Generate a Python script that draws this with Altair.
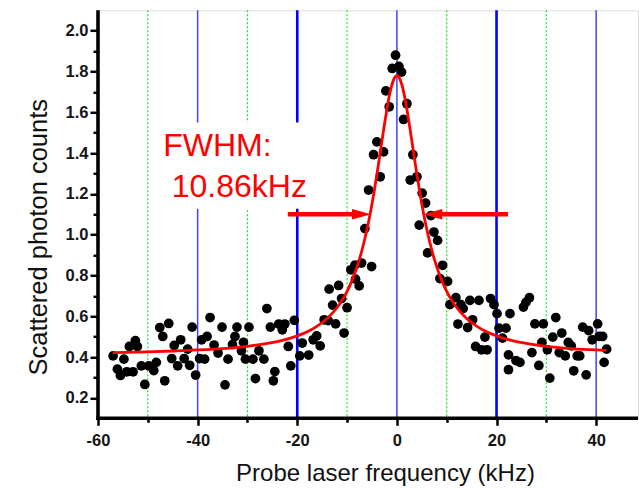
import altair as alt
import pandas as pd

# measured data points (probe detuning kHz, scattered photon counts)
freq = [
    -56.97, -56.1, -55.5, -54.8, -54.2, -52.96, -53.7, -52.5, -52.1, -51.3,
    -50.6, -49.8, -48.8, -48.3, -47.6, -47.0, -45.8, -46.6, -45.2, -44.7,
    -44.0, -43.4, -42.7, -42.0, -41.6, -41.1, -40.4, -39.6, -39.2,
    -38.6, -38.1, -37.5, -36.7, -35.9, -35.1, -33.9, -34.5, -33.0, -32.5,
    -32.1, -31.2, -30.8, -30.4, -29.7, -28.9, -28.4, -27.7, -26.7, -26.1,
    -25.4, -24.5, -24.8, -23.7, -23.0, -22.5, -21.8, -21.3, -20.6, -19.5, -19.0,
    -17.7, -16.8, -16.1, -15.4, -14.6, -13.8, -12.3, -10.6, -12.9, -11.1,
    -10.0, -13.6, -11.7, -9.24, -8.43, -7.09, -5.08, -7.57, -8.3, -6.43,
    -0.27, -0.94, 0.40, 0.94, -2.21, -1.54, 2.01, 1.34, -4.02, -4.68,
    -2.67, 3.21, -3.35, 2.67, 4.02, -5.68, 5.08, 5.76,
    6.83, 4.48, 7.43, 8.17, 6.16, 9.18, 8.63, 10.18, 11.85, 10.64,
    12.85, 13.3, 14.66, 16.47, 12.25, 14.2, 15.2, 17.67, 15.8, 17.0,
    18.1, 18.8, 19.5, 20.1, 20.5, 21.9, 21.2, 22.4, 22.4, 22.7,
    24.7, 23.9, 25.4, 25.9, 26.6, 27.1, 27.7, 28.5, 29.4, 29.1,
    30.2, 30.7, 31.3, 31.9, 32.6, 33.1, 33.8, 34.4, 35.0, 35.5,
    36.2, 36.7, 37.3, 38.0, 38.5, 39.2, 40.3, 40.6, 41.3, 42.1, 41.6,
]
counts = [
    0.406, 0.341, 0.31, 0.39, 0.328, 0.328, 0.452, 0.481, 0.452, 0.357,
    0.266, 0.357, 0.334, 0.374, 0.545, 0.501, 0.565, 0.284, 0.393, 0.457,
    0.357, 0.485, 0.393, 0.439, 0.36, 0.547, 0.312, 0.393, 0.485,
    0.39, 0.501, 0.594, 0.459, 0.42, 0.547, 0.39, 0.264, 0.462, 0.501,
    0.547, 0.431, 0.472, 0.39, 0.547, 0.39, 0.295, 0.431, 0.39, 0.638,
    0.547, 0.329, 0.284, 0.562, 0.534, 0.562, 0.452, 0.357, 0.58, 0.406, 0.469,
    0.41, 0.485, 0.504, 0.455, 0.583, 0.579, 0.563, 0.518, 0.655, 0.687,
    0.642, 0.733, 0.751, 0.828, 0.851, 0.861, 0.844, 0.749, 0.782, 1.03,
    1.880, 1.815, 1.825, 1.797, 1.705, 1.627, 1.642, 1.565, 1.455, 1.392,
    1.406, 1.392, 1.284, 1.268, 1.284, 1.219, 1.204, 1.155,
    1.094, 1.047, 1.013, 0.972, 0.911, 0.85, 0.785, 0.771, 0.691, 0.657,
    0.657, 0.638, 0.678, 0.678, 0.562, 0.545, 0.583, 0.498, 0.452, 0.436,
    0.436, 0.687, 0.657, 0.613, 0.542, 0.542, 0.493, 0.411, 0.338, 0.613,
    0.374, 0.383, 0.645, 0.668, 0.691, 0.422, 0.563, 0.359, 0.563, 0.472,
    0.436, 0.297, 0.498, 0.594, 0.422, 0.518, 0.406, 0.472, 0.455, 0.333,
    0.406, 0.406, 0.547, 0.313, 0.530, 0.485, 0.563, 0.501, 0.501, 0.439, 0.374,
]

# fitted curve
fit_x = [-57, -50, -45, -40, -35, -30, -26, -23, -20, -18, -16, -14, -12, -11,
         -10, -9, -8, -7, -6, -5.5, -5, -4.5, -4, -3.5, -3, -2.5, -2, -1.5,
         -1, -0.5, 0, 0.5, 1, 1.5, 2, 2.5, 3, 3.5, 4, 4.5, 5, 5.5, 6, 7, 8,
         9, 10, 11, 12, 14, 16, 18, 20, 23, 26, 30, 35, 40, 42]
fit_y = [0.422, 0.426, 0.430, 0.435, 0.442, 0.453, 0.467, 0.482, 0.504, 0.524,
         0.552, 0.589, 0.643, 0.678, 0.722, 0.776, 0.842, 0.925, 1.027, 1.086,
         1.151, 1.222, 1.298, 1.378, 1.460, 1.540, 1.616, 1.683, 1.735, 1.768,
         1.780, 1.768, 1.735, 1.683, 1.616, 1.540, 1.460, 1.378, 1.298, 1.222,
         1.151, 1.086, 1.027, 0.925, 0.842, 0.776, 0.722, 0.678, 0.643, 0.589,
         0.552, 0.524, 0.504, 0.482, 0.467, 0.453, 0.442, 0.435, 0.433]

grid_green = [-50, -30, -10, 10, 30]
grid_blue_thin = [-40, 0, 40]
grid_blue_thick = [-20, 20]

x_ticks = [-60, -50, -40, -30, -20, -10, 0, 10, 20, 30, 40]
y_ticks = [0.2, 0.3, 0.4, 0.5, 0.6, 0.7, 0.8, 0.9, 1.0, 1.1, 1.2, 1.3, 1.4,
           1.5, 1.6, 1.7, 1.8, 1.9, 2.0]

label_lines = ["FWHM:", "10.86kHz"]
label_x = [-46.9, -45.2]
label_y = [1.387, 1.187]

arrow_x = [-21.9, 22.3]
arrow_x2 = [-7.5, 7.5]
arrow_tip = [-5.2, 5.3]
half_max = 1.10

X_MIN, X_MAX = -60, 48.4
Y_MIN, Y_MAX = 0.1, 2.1

FONT = "Liberation Sans"
xs = alt.Scale(domain=[X_MIN, X_MAX], nice=False, zero=False)
ys = alt.Scale(domain=[Y_MIN, Y_MAX], nice=False, zero=False)

x_axis = alt.Axis(
    values=x_ticks,
    labelExpr="datum.value % 20 === 0 ? '' + datum.value : ''",
    grid=False, domain=False,
    tickColor="#000000", tickWidth=2.5, tickOpacity=1,
    tickSize={"condition": {"test": "datum.value % 20 === 0", "value": 7}, "value": 4},
    labelFont=FONT, labelFontSize=16.5, labelFontWeight="bold", labelColor="#151515",
    labelPadding=7, labelOverlap=False, labelFlush=False,
    title="Probe laser frequency (kHz)", titleFont=FONT, titleFontSize=24,
    titleFontWeight="normal", titleColor="#111111",
    titleX=287, titleY=62.4, titleAlign="center", titleBaseline="alphabetic",
)
y_axis = alt.Axis(
    values=y_ticks,
    labelExpr="round(datum.value*10) % 2 === 0 ? format(datum.value, '.1f') : ''",
    grid=False, domain=False,
    tickColor="#000000", tickWidth=2.5, tickOpacity=1,
    tickSize={"condition": {"test": "round(datum.value*10) % 2 === 0", "value": 8}, "value": 5},
    labelFont=FONT, labelFontSize=16.5, labelFontWeight="bold", labelColor="#151515",
    labelPadding=2, labelOverlap=False, labelFlush=False,
    title="Scattered photon counts", titleFont=FONT, titleFontSize=25.5,
    titleFontWeight="normal", titleColor="#111111",
    titleX=-51.5, titleY=226.4, titleAngle=270, titleAlign="center",
    titleBaseline="alphabetic",
)

pts = pd.DataFrame({"x": freq, "y": counts})
fit = pd.DataFrame({"x": fit_x, "y": fit_y})
g1 = pd.DataFrame({"x": grid_green})
g2 = pd.DataFrame({"x": grid_blue_thin})
g3 = pd.DataFrame({"x": grid_blue_thick})
box = pd.DataFrame({"x": [-48.5], "x2": [-19.2], "y": [1.127], "y2": [1.55]})
txt = pd.DataFrame({"x": label_x, "y": label_y, "t": label_lines})
arr = pd.DataFrame({"x": arrow_x, "x2": arrow_x2, "y": [half_max, half_max]})
tipL = pd.DataFrame({"x": [arrow_tip[0]], "y": [half_max]})
tipR = pd.DataFrame({"x": [arrow_tip[1]], "y": [half_max]})
# axis lines drawn as thin filled bands along the plot edges
frame = pd.DataFrame({
    "x": [X_MIN - 0.36, X_MIN - 0.36],
    "x2": [X_MIN + 0.36, X_MAX],
    "y": [Y_MIN - 0.0088, Y_MIN - 0.0088],
    "y2": [Y_MAX, Y_MIN + 0.0088],
})


def X(f="x"):
    return alt.X(f"{f}:Q", scale=xs, axis=x_axis)


def Y(f="y"):
    return alt.Y(f"{f}:Q", scale=ys, axis=y_axis)


grid1 = alt.Chart(g1).mark_rule(color="#1fe01f", strokeWidth=1.2, strokeDash=[2, 2]).encode(x=X())
grid2 = alt.Chart(g2).mark_rule(color="#4040ff", strokeWidth=1.5).encode(x=X())
grid3 = alt.Chart(g3).mark_rule(color="#0000ff", strokeWidth=2.6).encode(x=X())
white = alt.Chart(box).mark_rect(color="white").encode(x=X(), x2="x2", y=Y(), y2="y2")
dots = alt.Chart(pts).mark_circle(color="black", size=95, opacity=1).encode(x=X(), y=Y())
curve = alt.Chart(fit).mark_line(color="#ff0000", strokeWidth=2.8, interpolate="monotone").encode(x=X(), y=Y())
arrows = alt.Chart(arr).mark_rule(color="#ff0000", strokeWidth=4.5).encode(x=X(), x2="x2", y=Y())
headL = alt.Chart(tipL).mark_point(shape="M0,0L-2,-0.56L-2,0.56Z", filled=True, color="#ff0000",
                                   size=361, opacity=1).encode(x=X(), y=Y())
headR = alt.Chart(tipR).mark_point(shape="M0,0L2,-0.56L2,0.56Z", filled=True, color="#ff0000",
                                   size=361, opacity=1).encode(x=X(), y=Y())
labels = alt.Chart(txt).mark_text(align="left", baseline="alphabetic", font=FONT, fontSize=32,
                                  color="#ff0000").encode(x=X(), y=Y(), text="t:N")
axis_lines = alt.Chart(frame).mark_rect(color="#000000", opacity=1).encode(
    x=X(), x2="x2", y=Y(), y2="y2")

chart = alt.layer(grid1, grid2, grid3, white, dots, curve, arrows, headL, headR, labels,
                  axis_lines).properties(
    width=540, height=408,
    autosize=alt.AutoSizeParams(type="none"),
    padding={"left": 98, "top": 10.3, "right": 1, "bottom": 69.7},
).configure_view(stroke="transparent").configure(background="white")

chart.save("out.html", embed_options={"renderer": "svg", "actions": False})
